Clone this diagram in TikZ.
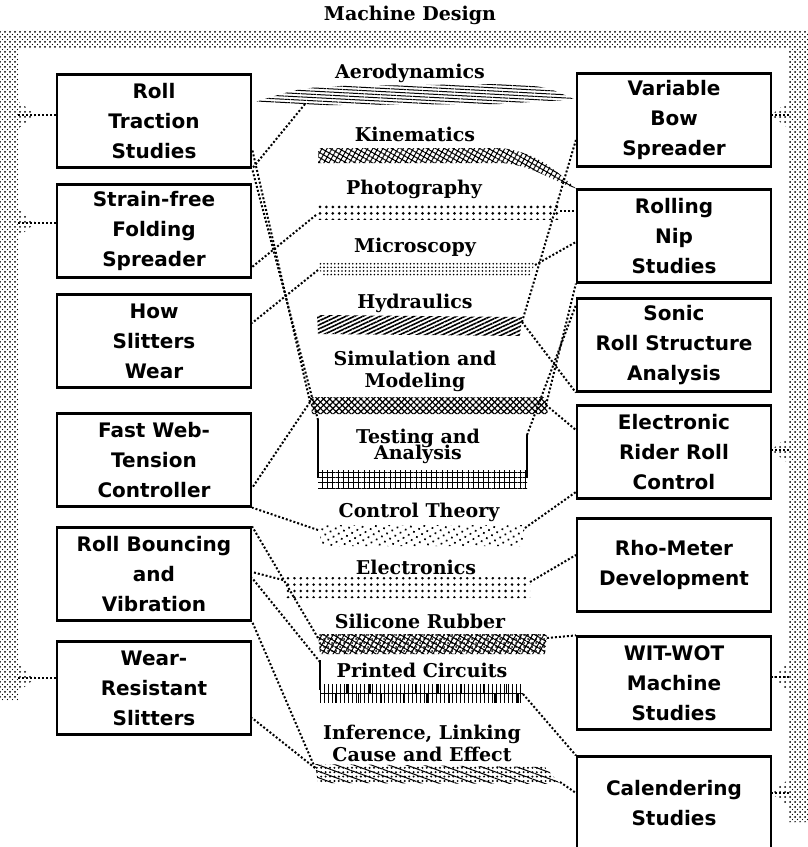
\documentclass[tikz,border=0pt]{standalone}
\usepackage{fontspec}
\setmainfont{DejaVu Serif}
\setsansfont{DejaVu Sans}
\usepackage{tikz}
\usetikzlibrary{patterns,patterns.meta}

\tikzset{
  proj/.style={draw, line width=1.1pt, font=\sffamily\bfseries\fontsize{10}{15}\selectfont, align=center, minimum width=97pt, minimum height=46.5pt, inner sep=0pt},
  disc/.style={font=\bfseries\fontsize{9.5}{11}\selectfont, align=center, inner sep=0pt},
  link/.style={densely dotted, line width=1pt},
  framepat/.style={pattern={Dots[distance=2.5pt,radius=0.5pt]}},
}

\begin{document}
\begin{tikzpicture}[x=0.5pt, y=-0.5pt]
			\clip (0,0) rectangle (808,847);
			\fill[framepat] (0,30) -- (808,30) -- (808,822) -- (789,822) -- (789,48) -- (18,48) -- (18,700) -- (0,700) -- cycle;
			\fill[pattern={Dots[distance=2.5pt,radius=0.3pt,xshift=1.25pt,yshift=1.25pt]}] (0,30) -- (808,30) -- (808,822) -- (789,822) -- (789,48) -- (18,48) -- (18,700) -- (0,700) -- cycle;
			\node[disc] (mdesign) at (410,15) {Machine Design};

			\node[proj] (rolltrac) at (154,121) {Roll\\Traction\\Studies};
			\node[proj] (strainfree) at (154,231) {Strain-free\\Folding\\Spreader};
			\node[proj] (slitwear) at (154,341) {How\\Slitters\\Wear};
			\node[proj] (webtension) at (154,460) {Fast Web-\\Tension\\Controller};
			\node[proj] (rollbounce) at (154,574) {Roll Bouncing\\and\\Vibration};
			\node[proj] (wearres) at (154,688) {Wear-\\Resistant\\Slitters};
			\node[proj] (varbow) at (674,120) {Variable\\Bow\\Spreader};
			\node[proj] (rollnip) at (674,236) {Rolling\\Nip\\Studies};
			\node[proj] (sonic) at (674,345) {Sonic\\Roll Structure\\Analysis};
			\node[proj] (rider) at (674,452) {Electronic\\Rider Roll\\Control};
			\node[proj] (rhometer) at (674,565) {Rho-Meter\\Development};
			\node[proj] (witwot) at (674,683) {WIT-WOT\\Machine\\Studies};
			\node[proj] (calender) at (674,803) {Calendering\\Studies};

			\coordinate (fa) at (18,115);
			\coordinate (fb) at (18,223);
			\coordinate (fc) at (18,678);
			\coordinate (fd) at (789,115);
			\coordinate (fe) at (789,450);
			\coordinate (ff) at (789,677);
			\coordinate (fg) at (789,793);
			\foreach \c in {fa,fb,fc}
    \fill[framepat] ([yshift=7pt]\c) -- ([xshift=9pt]\c) -- ([yshift=-7pt]\c) -- cycle;
			\foreach \c in {fd,fe,ff,fg}
    \fill[framepat] ([yshift=7pt]\c) -- ([xshift=-9pt]\c) -- ([yshift=-7pt]\c) -- cycle;
			\draw[link] (fa) -- (rolltrac.west |- fa);
			\draw[link] (fb) -- (strainfree.west |- fb);
			\draw[link] (fc) -- (wearres.west |- fc);
			\draw[link] (fd) -- (varbow.east |- fd);
			\draw[link] (fe) -- (rider.east |- fe);
			\draw[link] (ff) -- (witwot.east |- ff);
			\draw[link] (fg) -- (calender.east |- fg);

			\node[disc] (aero) at (410,73) {Aerodynamics};
			\node[disc] (kine) at (415,134) {Kinematics};
			\node[disc] (photo) at (414,189) {Photography};
			\node[disc] (micro) at (415,247) {Microscopy};
			\node[disc] (hydro) at (415,303) {Hydraulics};
			\node[disc] (simul) at (415,371) {Simulation and\\Modeling};
			\node[disc] (testing) at (418,446) {Testing and\\[-3pt]Analysis};
			\node[disc] (control) at (419,512) {Control Theory};
			\node[disc] (electr) at (416,567) {Electronics};
			\node[disc] (silicone) at (420,621) {Silicone Rubber};
			\node[disc] (printed) at (422,670) {Printed Circuits};
			\node[disc] (infer) at (422,743) {Inference, Linking\\Cause and Effect};

			\fill[pattern={Lines[angle=-3,distance=1.6pt,line width=0.5pt]}] ([yshift=9pt]rolltrac.east) .. controls (300,88) .. (340,86) -- (500,84) .. controls (545,86) .. ([yshift=10pt]varbow.west) .. controls (545,101) .. (500,104) -- (340,105) .. controls (300,105) .. ([yshift=9pt]rolltrac.east);
			\fill[pattern={Hatch[angle=60,distance=2.2pt,line width=0.5pt]}] (318,148) -- (500,148) .. controls (540,152) and (560,175) .. (rollnip.north west) .. controls (550,180) and (530,164) .. (500,163) -- (318,163) -- cycle;
			\fill[pattern={Dots[distance=3.2pt,radius=0.75pt]}] (316,203) rectangle (560,219);
			\fill[pattern={Dots[distance=1.8pt,radius=0.45pt]}] (318,262) -- (535,262) -- (530,277) -- (322,277) -- cycle;
			\fill[pattern={Lines[angle=25,distance=1.8pt,line width=0.8pt]}] (317,315) -- (522,317) -- (520,336) -- (318,334) -- cycle;
			\fill[pattern={Hatch[angle=45,distance=2.2pt,line width=0.6pt]}] (310,397) -- (545,397) -- (548,414) -- (312,414) -- cycle;
			\fill[pattern={Hatch[angle=0,distance=2.6pt,line width=0.5pt]}] (318,470) rectangle (527,488);
			\draw[line width=0.8pt] (318,420) -- (318,478);
			\draw[line width=0.8pt] (527,435) -- (527,478);
			\fill[pattern={Dots[distance=3pt,radius=0.6pt,angle=30]}] (318,525) -- (525,525) -- (522,546) -- (322,546) -- cycle;
			\fill[pattern={Dots[distance=3.2pt,radius=0.7pt]}] (283,577) -- (530,577) -- (530,598) -- (285,598) -- cycle;
			\fill[pattern={Hatch[angle=-30,distance=2.4pt,line width=0.5pt]}] (318,634) -- (547,634) -- (545,654) -- (320,654) -- cycle;
			\fill[pattern={Dots[distance=2pt,radius=0.5pt]}] (318,634) -- (547,634) -- (545,654) -- (320,654) -- cycle;
			\fill[pattern=bricks] (320,684) rectangle (523,702);
			\fill[pattern={Lines[angle=90,distance=2pt,line width=0.4pt]}] (320,684) rectangle (523,702);
			\draw[line width=0.8pt] (320,660) -- (320,690);
			\fill[pattern={Dots[distance=2.2pt,radius=0.55pt]}] (315,764) -- (545,767) -- (560,784) -- (318,783) -- cycle;
			\fill[pattern={Lines[angle=-20,distance=3pt,line width=0.5pt]}] (315,764) -- (545,767) -- (560,784) -- (318,783) -- cycle;

			\coordinate (aeroX) at (305,104);
			\coordinate (photoL) at (316,215);
			\coordinate (photoR) at (560,211);
			\coordinate (microL) at (318,270);
			\coordinate (microR) at (535,265);
			\coordinate (hydroR) at (522,322);
			\coordinate (simulL) at (310,402);
			\coordinate (simulR) at (546,405);
			\coordinate (testL) at (318,420);
			\coordinate (testR) at (527,435);
			\coordinate (controlL) at (318,530);
			\coordinate (controlR) at (525,528);
			\coordinate (electrL) at (283,580);
			\coordinate (electrR) at (530,582);
			\coordinate (siliconeL) at (318,638);
			\coordinate (siliconeR) at (547,638);
			\coordinate (printedL) at (320,662);
			\coordinate (printedR) at (523,694);
			\coordinate (inferL) at (315,768);
			\coordinate (inferR) at (560,782);

			\draw[link] (aeroX) -- (rolltrac.south east);
			\draw[link] (photoL) -- ([yshift=-18pt]strainfree.east);
			\draw[link] (photoR) -- ([yshift=12.5pt]rollnip.west);
			\draw[link] (microL) -- ([yshift=9pt]slitwear.east);
			\draw[link] (microR) -- ([yshift=-3pt]rollnip.west);
			\draw[link] (hydroR) -- ([yshift=-10pt]varbow.west);
			\draw[link] (hydroR) -- (sonic.south west);
			\draw[link] (simulL) -- ([yshift=-14pt]rolltrac.east);
			\draw[link] (simulL) -- ([yshift=-14pt]webtension.east);
			\draw[link] (simulR) -- ([yshift=11pt]rider.west);
			\draw[link] (simulR) -- (rollnip.south west);
			\draw[link] (testL) -- (rolltrac.south east);
			\draw[link] (testR) -- ([yshift=20pt]sonic.west);
			\draw[link] (controlL) -- (webtension.south east);
			\draw[link] (controlR) -- ([yshift=-20pt]rider.west);
			\draw[link] (electrL) -- ([yshift=1pt]rollbounce.east);
			\draw[link] (electrR) -- ([yshift=5pt]rhometer.west);
			\draw[link] (siliconeL) -- (rollbounce.north east);
			\draw[link] (siliconeR) -- (witwot.north west);
			\draw[link] (printedL) -- ([yshift=-2pt]rollbounce.east);
			\draw[link] (printedR) -- (calender.north west);
			\draw[link] (inferL) -- (rollbounce.south east);
			\draw[link] (inferL) -- ([yshift=-15pt]wearres.east);
			\draw[link] (inferR) -- ([yshift=5pt]calender.west);

		\end{tikzpicture}
\end{document}
